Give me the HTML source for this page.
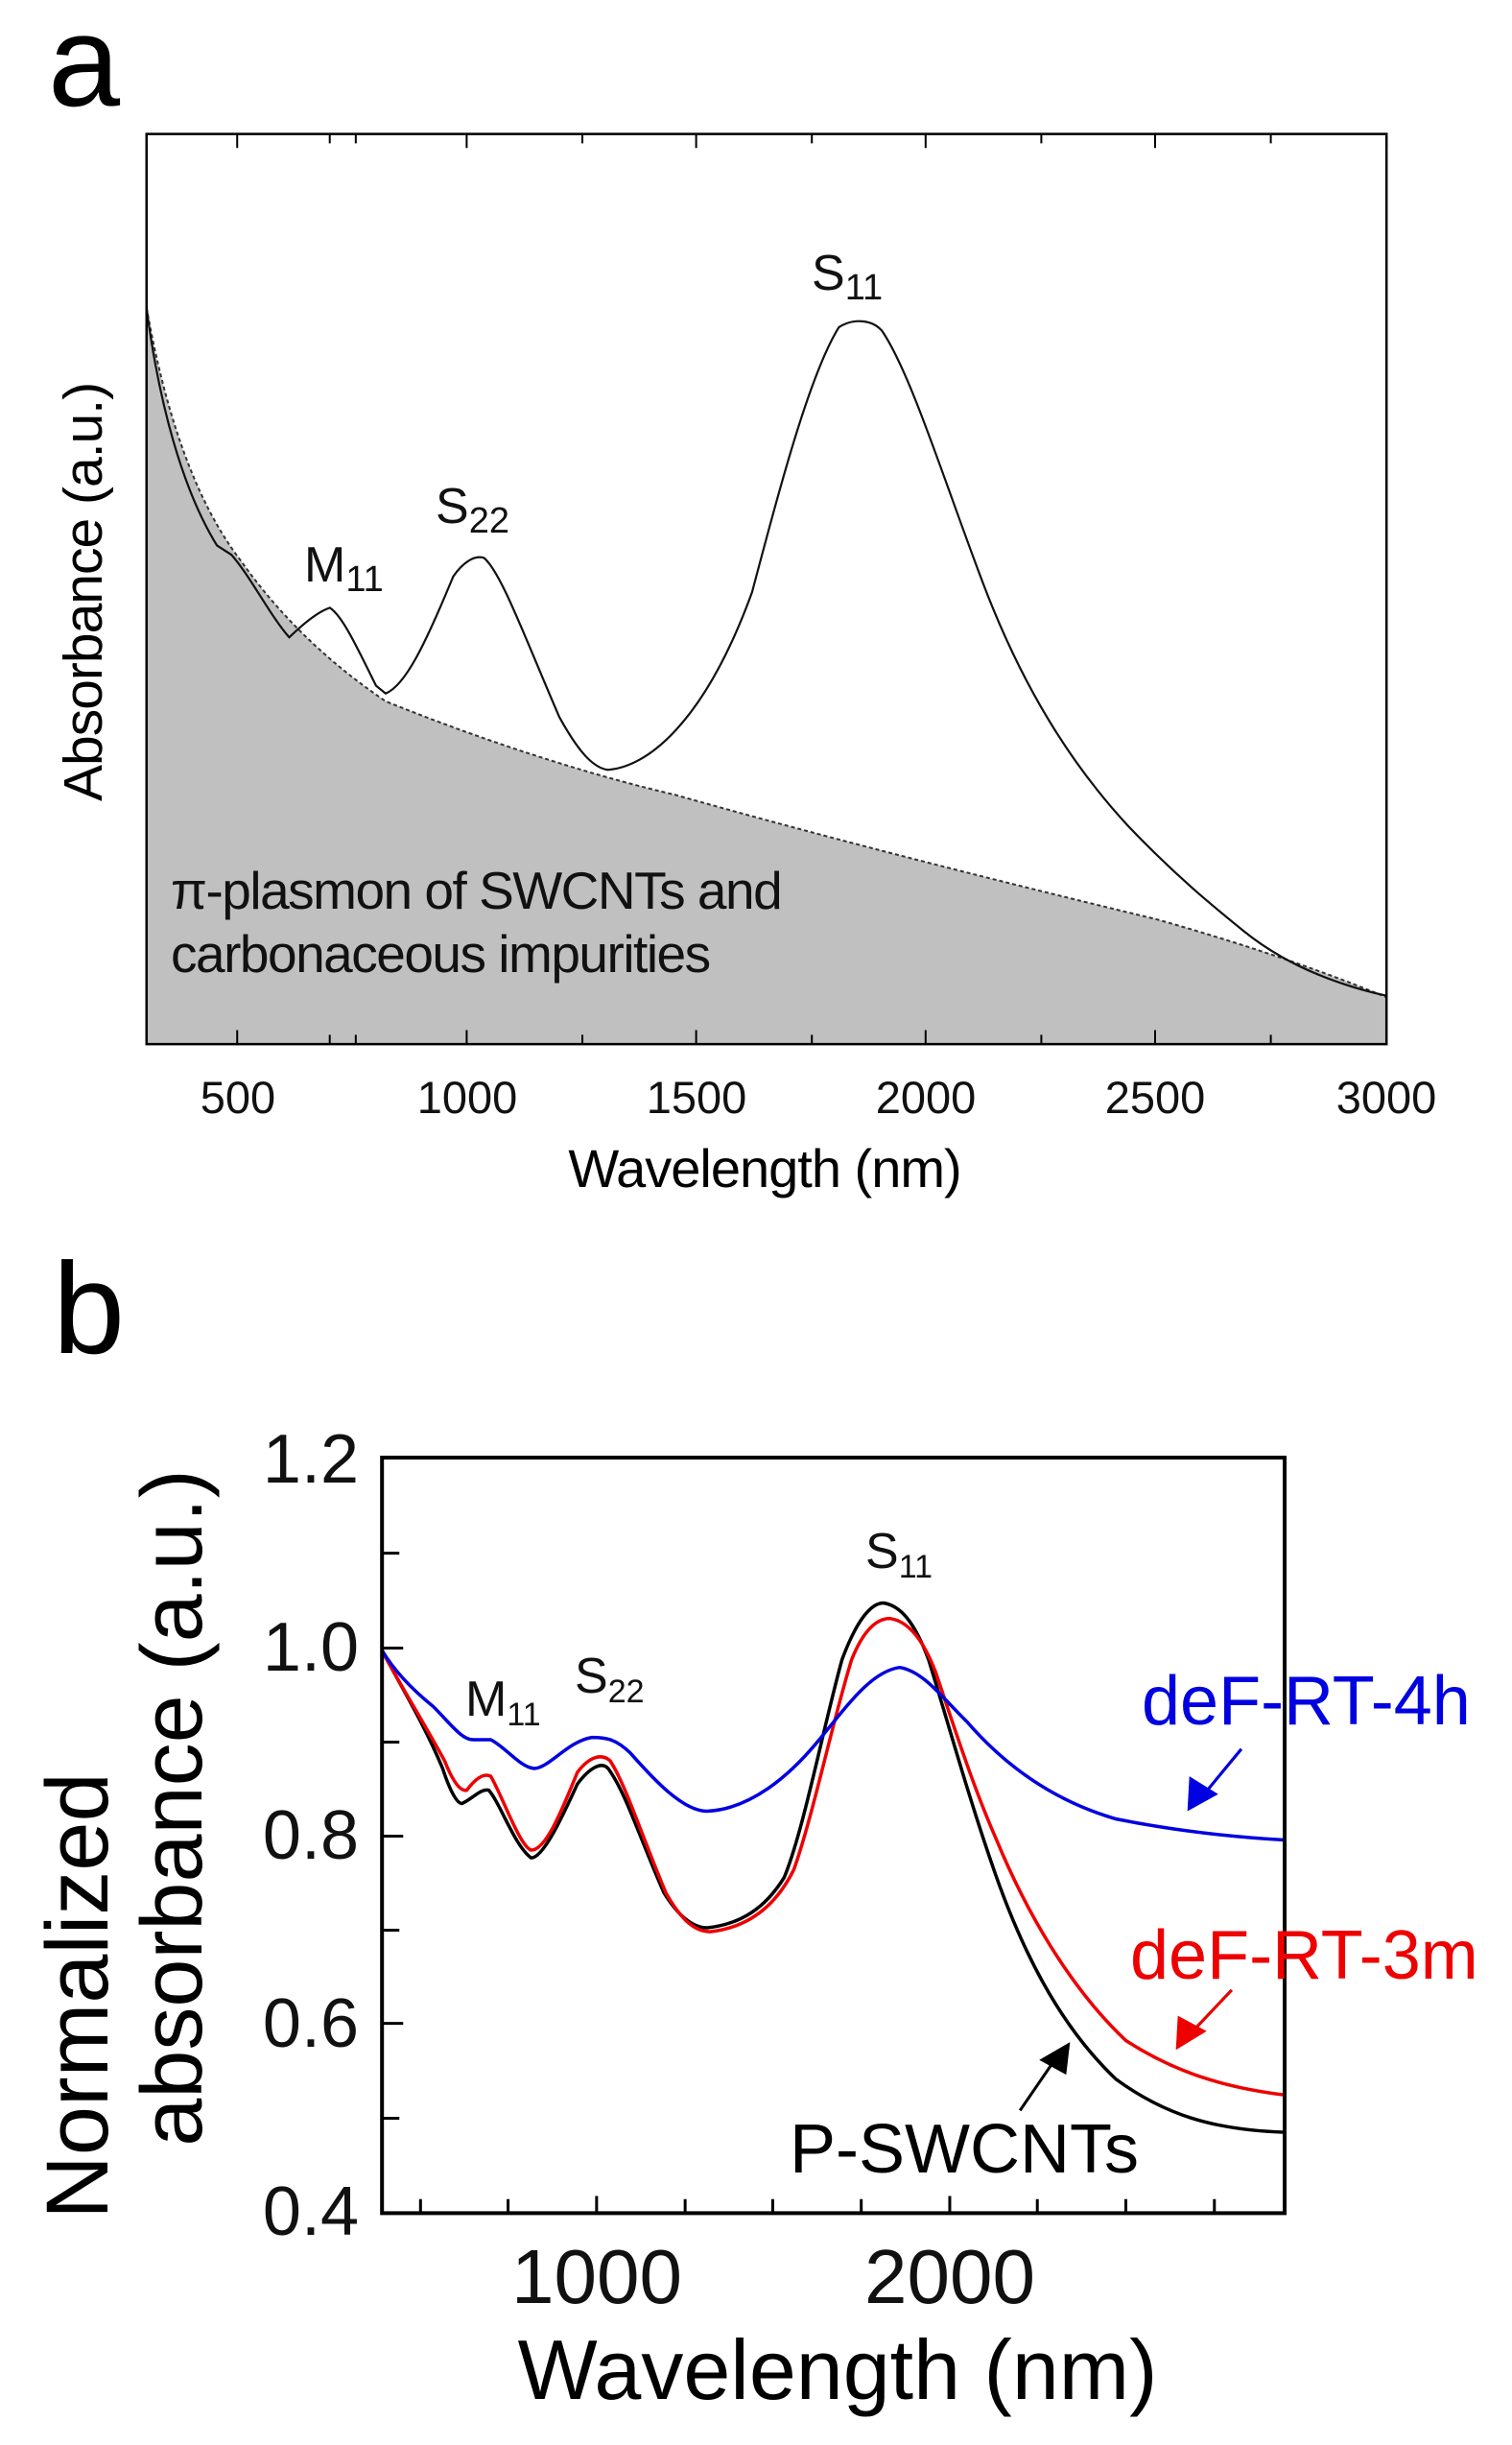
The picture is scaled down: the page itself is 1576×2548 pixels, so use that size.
<!DOCTYPE html>
<html><head><meta charset="utf-8"><style>
html,body{margin:0;padding:0;background:#fff;}
svg{display:block;font-family:"Liberation Sans",Arial,sans-serif;}
</style></head><body>
<svg width="1576" height="2548" viewBox="0 0 1576 2548" xmlns="http://www.w3.org/2000/svg">
<!-- Panel a -->
<g transform="scale(1.005,0.812)">
  <path d="M152,395 C170,520 200,640 250,720 C290,790 340,850 400,900 C520,960 630,1000 700,1020 C900,1090 1100,1150 1200,1180 C1300,1215 1380,1250 1438,1280 L1438,1340 L152,1340 Z" fill="#c0c0c0"/>
  <path d="M152,395 C170,520 200,640 250,720 C290,790 340,850 400,900 C520,960 630,1000 700,1020 C900,1090 1100,1150 1200,1180 C1300,1215 1380,1250 1438,1280" fill="none" stroke="#333" stroke-width="2" stroke-dasharray="4,3" vector-effect="non-scaling-stroke"/>
  <path d="M152,395 C165,520 190,630 225,700 L240,712 C260,740 280,790 300,818 C315,800 330,785 342,780 C355,790 370,830 390,880 L400,890 C420,880 440,830 470,740 C480,722 492,712 502,716 C520,735 545,820 580,920 C600,965 615,985 630,988 C670,985 730,930 780,760 C810,620 840,480 870,420 C885,408 905,410 915,425 C945,480 980,620 1020,750 C1060,880 1110,980 1170,1060 C1220,1125 1260,1165 1290,1195 C1330,1235 1380,1262 1438,1278" fill="none" stroke="#111" stroke-width="2.2" vector-effect="non-scaling-stroke"/>
  <rect x="152" y="172" width="1286" height="1168" fill="none" stroke="#000" stroke-width="2.5" vector-effect="non-scaling-stroke"/>
  <g stroke="#000" stroke-width="2">
    <path d="M246,172v18M246,1340v-18M342,172v12M342,1340v-12M369,172v12M369,1340v-12M484,172v18M484,1340v-18M604,172v12M604,1340v-12M722,172v18M722,1340v-18M842,172v12M842,1340v-12M960,172v18M960,1340v-18M1080,172v12M1080,1340v-12M1198,172v18M1198,1340v-18M1318,172v12M1318,1340v-12M1438,172v18" vector-effect="non-scaling-stroke"/>
  </g>
</g>
<text x="50" y="110" font-size="135">a</text>
<g font-size="47" text-anchor="middle" fill="#111">
<text x="248" y="1160">500</text><text x="487" y="1160">1000</text><text x="726" y="1160">1500</text><text x="965" y="1160">2000</text><text x="1204" y="1160">2500</text><text x="1445" y="1160">3000</text>
</g>
<text x="797" y="1237" font-size="56" text-anchor="middle" letter-spacing="-1">Wavelength (nm)</text>
<text transform="translate(106,617) rotate(-90)" font-size="57" text-anchor="middle" letter-spacing="-1">Absorbance (a.u.)</text>
<g font-size="52" fill="#111">
<text x="846" y="302">S<tspan font-size="38" dy="10">11</tspan></text>
<text x="454" y="545">S<tspan font-size="38" dy="10">22</tspan></text>
<text x="317" y="606">M<tspan font-size="38" dy="10">11</tspan></text>
</g>
<g font-size="55" fill="#111" letter-spacing="-1.5">
<text x="178" y="947">π-plasmon of SWCNTs and</text>
<text x="178" y="1013">carbonaceous impurities</text>
</g>

<!-- Panel b -->
<g transform="translate(0,1276) scale(1.003,0.81)">
  <path d="M397,548 C410,580 440,640 460,700 C468,730 475,745 480,745 C490,740 500,725 508,728 C520,745 535,800 552,815 C565,815 585,760 600,720 C612,700 625,690 632,700 C650,730 665,790 690,860 C705,890 720,905 735,905 C770,900 795,880 815,840 C835,780 855,650 875,560 C890,510 905,487 918,487 C935,490 950,510 965,560 C985,640 1005,730 1030,820 C1060,930 1100,1030 1160,1100 C1210,1145 1260,1165 1335,1168" fill="none" stroke="#000" stroke-width="3.5" vector-effect="non-scaling-stroke"/>
  <path d="M397,548 C410,580 440,640 462,690 C470,715 478,730 485,728 C493,715 502,705 510,710 C522,735 540,800 552,805 C568,805 585,750 600,705 C612,685 625,680 634,690 C650,720 668,790 692,860 C708,895 722,910 738,910 C775,905 805,880 825,830 C845,760 865,640 885,560 C898,520 912,507 925,507 C942,510 958,530 972,575 C990,640 1010,720 1035,790 C1065,880 1110,980 1170,1050 C1220,1090 1270,1110 1335,1120" fill="none" stroke="#e00" stroke-width="3.5" vector-effect="non-scaling-stroke"/>
  <path d="M397,548 C410,575 430,600 450,620 C470,645 480,663 492,663 L510,663 C525,672 540,698 555,700 C570,700 590,665 615,660 C630,660 640,662 655,680 C680,715 710,755 735,755 C780,752 820,710 850,665 C880,620 905,575 935,570 C960,575 980,610 1005,640 C1040,690 1090,740 1160,765 C1220,780 1280,788 1335,792" fill="none" stroke="#0000e0" stroke-width="3.5" vector-effect="non-scaling-stroke"/>
  <rect x="397" y="300" width="938" height="972" fill="none" stroke="#000" stroke-width="4" vector-effect="non-scaling-stroke"/>
  <g stroke="#000" stroke-width="3">
    <path d="M397,423h18M397,545h22M397,666h18M397,787h22M397,908h18M397,1028h22M397,1150h18M437,1272v-18M528,1272v-18M620,1272v-22M712,1272v-18M803,1272v-18M895,1272v-18M987,1272v-22M1078,1272v-18M1170,1272v-18M1262,1272v-18" vector-effect="non-scaling-stroke"/>
  </g>
  <path d="M1290,675 L1250,735 M1280,985 L1238,1040 M1060,1140 L1096,1075" stroke-width="3" vector-effect="non-scaling-stroke" stroke="#000"/>
  <path d="M1290,675 L1250,735" stroke="#0000e0" stroke-width="3" vector-effect="non-scaling-stroke"/>
  <path d="M1280,985 L1238,1040" stroke="#e00" stroke-width="3" vector-effect="non-scaling-stroke"/>
  <path d="M1234,755 L1236,710 L1266,733 Z" fill="#0000e0"/>
  <path d="M1222,1062 L1224,1018 L1254,1038 Z" fill="#e00"/>
  <path d="M1112,1052 L1080,1075 L1108,1094 Z" fill="#000"/>
</g>
<text x="55" y="1410" font-size="135">b</text>
<g font-size="72" text-anchor="end" fill="#111">
<text x="374" y="1545">1.2</text><text x="374" y="1741">1.0</text><text x="374" y="1937">0.8</text><text x="374" y="2133">0.6</text><text x="374" y="2329">0.4</text>
</g>
<g font-size="80" text-anchor="middle" fill="#111">
<text x="622" y="2400">1000</text><text x="990" y="2400">2000</text>
</g>
<text x="873" y="2500" font-size="88" text-anchor="middle">Wavelength (nm)</text>
<text transform="translate(112,2080) rotate(-90)" font-size="92" text-anchor="middle">Normalized</text>
<text transform="translate(210,1884) rotate(-90)" font-size="90" text-anchor="middle">absorbance (a.u.)</text>
<g font-size="52" fill="#111">
<text x="902" y="1634">S<tspan font-size="34" dy="10">11</tspan></text>
<text x="599" y="1764">S<tspan font-size="34" dy="10">22</tspan></text>
<text x="485" y="1788">M<tspan font-size="34" dy="10">11</tspan></text>
</g>
<text x="1190" y="1797" font-size="72" fill="#0000e0">deF-RT-4h</text>
<text x="1178" y="2062" font-size="72" fill="#e00">deF-RT-3m</text>
<text x="823" y="2264" font-size="72" fill="#000">P-SWCNTs</text>
</svg>
</body></html>
